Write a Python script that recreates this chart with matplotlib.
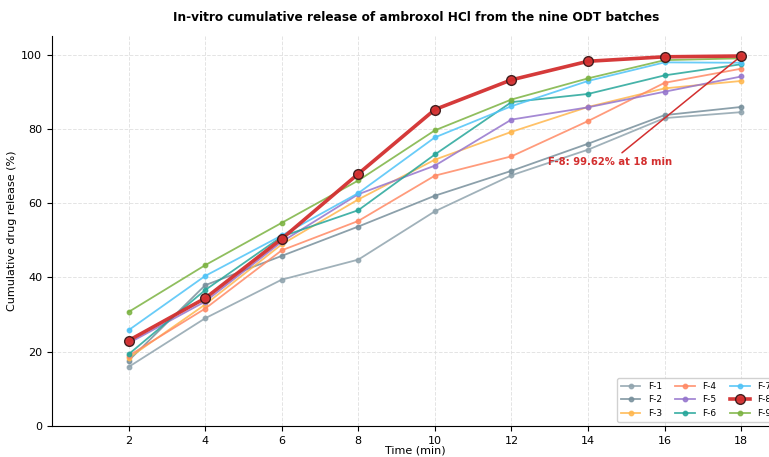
import matplotlib
matplotlib.use("Agg")
import matplotlib.pyplot as plt

# sampling times (min)
time_min = [2, 4, 6, 8, 10, 12, 14, 16, 18]

# cumulative release (%) per batch
f1 = [15.9, 29.0, 39.4, 44.8, 57.8, 67.5, 74.4, 82.9, 84.5]
f2 = [17.6, 37.9, 45.8, 53.7, 62.0, 68.7, 76.0, 83.7, 85.9]
f3 = [18.3, 32.7, 48.9, 61.0, 71.7, 79.2, 85.9, 90.9, 92.9]
f4 = [18.9, 31.6, 47.3, 55.2, 67.4, 72.6, 82.1, 92.4, 96.2]
f5 = [22.3, 33.5, 49.6, 62.4, 70.1, 82.5, 85.8, 90.0, 94.1]
f6 = [19.3, 36.6, 51.0, 58.1, 73.1, 87.2, 89.4, 94.4, 97.4]
f7 = [25.8, 40.4, 51.3, 62.7, 77.7, 86.1, 92.9, 97.9, 97.8]
f8 = [23.0, 34.4, 50.4, 67.9, 85.2, 93.2, 98.2, 99.4, 99.62]
f9 = [30.7, 43.3, 54.7, 66.1, 79.6, 87.9, 93.6, 98.5, 99.0]

batches = ["F-1", "F-2", "F-3", "F-4", "F-5", "F-6", "F-7", "F-8", "F-9"]
series = [f1, f2, f3, f4, f5, f6, f7, f8, f9]
colors = ["#90a4ae", "#78909c", "#ffb74d", "#ff8a65", "#9575cd",
          "#26a69a", "#4fc3f7", "#d32f2f", "#7cb342"]

fig = plt.figure(figsize=(7.69, 4.57), dpi=100)
ax = fig.add_axes([0.0676, 0.0678, 0.946, 0.8534])

for name, vals, c in zip(batches, series, colors):
    if name == "F-8":
        ax.plot(time_min, vals, color=c, lw=2.6, marker="o", ms=7,
                mfc=c, mec="#3a1a1a", mew=1.0, label=name, zorder=5, alpha=0.95)
    else:
        ax.plot(time_min, vals, color=c, lw=1.3, marker="o", ms=3.2,
                label=name, alpha=0.85, zorder=3)

ax.annotate("F-8: 99.62% at 18 min", xy=(18, f8[-1]), xytext=(14.58, 71),
            ha="center", va="center", fontsize=7.2, fontweight="bold", color="#d32f2f",
            arrowprops=dict(arrowstyle="-", color="#d32f2f", lw=1.1))

ax.set_xlim(0, 19)
ax.set_ylim(0, 105)
ax.set_xticks(time_min)
ax.set_yticks([0, 20, 40, 60, 80, 100])
ax.tick_params(labelsize=8)
ax.grid(True, ls="--", color="#dddddd", lw=0.7, alpha=0.8)
ax.spines["top"].set_visible(False)
ax.spines["right"].set_visible(False)
ax.set_xlabel("Time (min)", fontsize=8, labelpad=0)
ax.set_ylabel("Cumulative drug release (%)", fontsize=8, labelpad=3)
ax.set_title("In-vitro cumulative release of ambroxol HCl from the nine ODT batches",
             fontsize=8.7, fontweight="bold", pad=11)
ax.legend(loc="lower right", ncol=3, fontsize=6.5, frameon=True, framealpha=0.9,
          handlelength=2.2, columnspacing=1.5)

fig.savefig("out.png", dpi=100)
